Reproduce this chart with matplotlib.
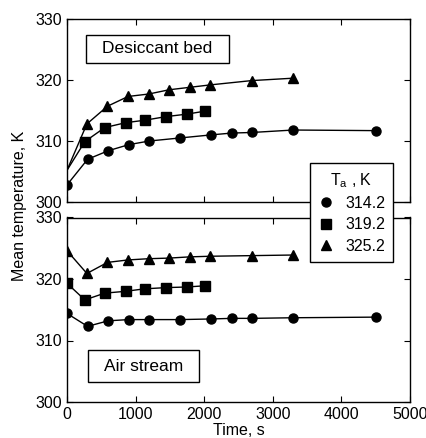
import matplotlib
matplotlib.use("Agg")
import matplotlib.pyplot as plt
from matplotlib.lines import Line2D
from matplotlib.patches import Rectangle

plt.rcParams['font.family'] = ['Liberation Sans', 'DejaVu Sans']
plt.rcParams['mathtext.default'] = 'regular'

# desiccant bed (top panel)
bed_t_circ = [0, 300, 600, 900, 1200, 1650, 2100, 2400, 2700, 3300, 4500]
bed_circ = [302.8, 307.0, 308.4, 309.4, 310.0, 310.5, 311.0, 311.3, 311.4, 311.8, 311.7]
bed_t_sq = [0, 260, 550, 855, 1130, 1445, 1745, 2015]
bed_sq = [305.2, 309.9, 312.2, 313.0, 313.4, 314.0, 314.4, 314.9]
bed_t_tri = [0, 290, 590, 890, 1190, 1490, 1790, 2090, 2690, 3300]
bed_tri = [305.2, 312.8, 315.7, 317.3, 317.7, 318.4, 318.8, 319.2, 319.9, 320.3]

# air stream (bottom panel)
air_t_circ = [0, 300, 600, 900, 1200, 1650, 2100, 2400, 2700, 3300, 4500]
air_circ = [314.4, 312.3, 313.2, 313.4, 313.4, 313.4, 313.5, 313.6, 313.6, 313.7, 313.8]
air_t_sq = [0, 260, 550, 855, 1130, 1445, 1745, 2015]
air_sq = [319.3, 316.6, 317.7, 318.0, 318.4, 318.6, 318.7, 318.9]
air_t_tri = [0, 290, 590, 890, 1190, 1490, 1790, 2090, 2690, 3300]
air_tri = [324.6, 320.9, 322.7, 323.1, 323.3, 323.4, 323.6, 323.7, 323.8, 323.9]

legend_labels = ['314.2', '319.2', '325.2']
markers = ['o', 's', '^']

W, H = 427, 438
fig = plt.figure(figsize=(W / 100, H / 100), dpi=100)
ax1 = fig.add_axes([67 / W, 1 - 202 / H, 343 / W, 183 / H])
ax2 = fig.add_axes([67 / W, 1 - 402 / H, 343 / W, 184.5 / H])

ms = 6.5
kw = dict(color='black', lw=1.0, markersize=ms)
ax1.plot(bed_t_circ, bed_circ, marker='o', **kw)
ax1.plot(bed_t_sq, bed_sq, marker='s', markevery=slice(1, None), **kw)
ax1.plot(bed_t_tri, bed_tri, marker='^', markevery=slice(1, None), **kw)

ax2.plot(air_t_circ, air_circ, marker='o', **kw)
ax2.plot(air_t_sq, air_sq, marker='s', **kw)
ax2.plot(air_t_tri, air_tri, marker='^', **kw)

for ax in (ax1, ax2):
    ax.set_xlim(0, 5000)
    ax.set_ylim(300, 330)
    ax.set_xticks([0, 1000, 2000, 3000, 4000, 5000])
    ax.set_yticks([300, 310, 320, 330])
    ax.tick_params(direction='in', top=True, right=True, labelsize=11.5, length=4)
    for s in ax.spines.values():
        s.set_linewidth(1.0)

ax1.tick_params(labelbottom=False)
ax2.set_xlabel('Time, s', fontsize=11.5, labelpad=1)
fig.text(20 / W, 1 - 206 / H, 'Mean temperature, K', rotation=90,
         ha='center', va='center', fontsize=11.5)

# panel captions
ax1.add_patch(Rectangle((0.055, 0.760), 0.417, 0.153, transform=ax1.transAxes,
                        fill=False, ec='black', lw=1.0))
ax1.text(0.055 + 0.417 / 2, 0.760 + 0.153 / 2, 'Desiccant bed', transform=ax1.transAxes,
         ha='center', va='center', fontsize=12.5)
ax2.add_patch(Rectangle((0.061, 0.108), 0.324, 0.173, transform=ax2.transAxes,
                        fill=False, ec='black', lw=1.0))
ax2.text(0.061 + 0.324 / 2, 0.108 + 0.173 / 2, 'Air stream', transform=ax2.transAxes,
         ha='center', va='center', fontsize=12.5)

handles = [Line2D([], [], color='black', marker=m, linestyle='none', markersize=ms)
           for m in markers]
leg = fig.legend(handles, legend_labels, title='T$_a$ , K', loc='upper left',
                 bbox_to_anchor=(310 / W, 1 - 163 / H), borderaxespad=0,
                 fontsize=11.5, title_fontsize=11.5, frameon=True, fancybox=False,
                 edgecolor='black', framealpha=1, handlelength=1.0,
                 handletextpad=0.7, labelspacing=0.4, borderpad=0.5)
leg.get_frame().set_linewidth(1.0)

fig.savefig('out.png', dpi=100)
